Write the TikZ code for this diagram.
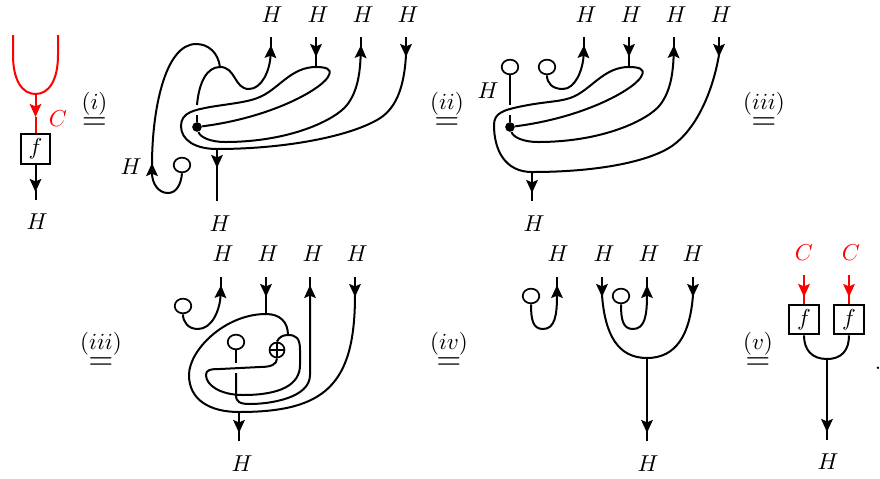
\documentclass[tikz,border=0pt]{standalone}
\usepackage{amsmath}
\usetikzlibrary{arrows.meta,shapes.geometric}

\newcommand{\eqlab}[1]{$\overset{\textstyle #1\rule[-1.5pt]{0pt}{0pt}}{\scalebox{1.4}{$=$}}$}

\begin{document}
\begin{tikzpicture}[x=.5pt,y=-.5pt]
\tikzstyle{every node}=[scale=1.15]
\tikzstyle{strand}=[line width=1pt]
\tikzstyle{arr}=[strand,-{Stealth[length=6.5pt,width=5.8pt,inset=1.2pt]}]
\tikzstyle{ring}=[ellipse,draw,line width=.85pt,inner sep=0pt,minimum width=7.2pt,minimum height=6.4pt]
\tikzstyle{blob}=[circle,fill=black,inner sep=0pt,minimum size=4.2pt]
\tikzstyle{mapbox}=[rectangle,draw,line width=1pt,inner sep=0pt,minimum size=12.8pt]
\tikzstyle{rel}=[inner sep=0pt]
\useasboundingbox (0,0) rectangle (880,478);

% first column
\node[text=red] (Cl) at (58,119) {$C$};
\node[mapbox] (f0) at (35.5,149) {$f$};
\node (H0) at (37,222) {$H$};
\coordinate (r0) at (35.5,117);
\coordinate (m0) at (35.5,94);
\draw[strand,red] (13,35) -- (13,55) .. controls (13,80) and (22,94) .. (m0) .. controls (49,94) and (58,80) .. (58,55) -- (58,35);
\draw[arr,red] (m0) -- (r0);
\draw[strand,red] (r0) -- (f0.north);
\draw[arr] (f0.south) -- (35.5,192);
\draw[strand] (35.5,190) -- (35.5,200);
\node[rel] (e1) at (94.5,110) {\eqlab{(i)}};

% after (i)
\node (Ha1) at (272,15) {$H$};
\node (Ha2) at (318,15) {$H$};
\node (Ha3) at (363,15) {$H$};
\node (Ha4) at (408,15) {$H$};
\node (Ha5) at (131,167) {$H$};
\node (Ha6) at (220,224) {$H$};
\node[ring] (ca) at (182,165) {};
\node[blob] (da) at (197,127) {};
\coordinate (ja) at (316,67);
\coordinate (ka) at (217,149);
\coordinate (la) at (220,67);
\draw[strand] (271,37) -- (271,50);
\draw[arr] (316,37) -- (316,57);
\draw[strand] (316,55) -- (ja);
\draw[strand] (361,37) -- (361,50);
\draw[arr] (406,37) -- (406,57);
\draw[arr] (197,105) .. controls (199,82) and (207,67) .. (la) .. controls (236,67) and (234,89) .. (249,89) .. controls (262,89) and (270,70) .. (271,45);
\draw[strand] (197,115) -- (da);
\draw[strand] (la) .. controls (218,52) and (208,44) .. (196,44) .. controls (165,44) and (152,110) .. (152,165);
\draw[arr] (ca.south) .. controls (181,185) and (176,193) .. (168,193) .. controls (158,193) and (152,183) .. (152,163);
\draw[strand] (406,55) .. controls (404,90) and (395,110) .. (377,120) .. controls (345,138) and (280,149) .. (ka) .. controls (195,149) and (181,140) .. (181,126) .. controls (181,112) and (195,110) .. (210,107) .. controls (235,103) and (250,102) .. (262,96) .. controls (280,87) and (292,67) .. (ja) .. controls (326,67) and (332,69) .. (329,75) .. controls (325,87) and (275,117) .. (da);
\draw[arr] (da) .. controls (200,137) and (210,142) .. (225,142) .. controls (290,142) and (335,120) .. (347,105) .. controls (357,92) and (360,75) .. (361,45);
\draw[arr] (ka) -- (217,168);
\draw[strand] (217,165) -- (217,201);
\node[rel] (e2) at (447,110) {\eqlab{(ii)}};

% after (ii)
\node (Hb1) at (586,15) {$H$};
\node (Hb2) at (631,15) {$H$};
\node (Hb3) at (676,15) {$H$};
\node (Hb4) at (721,15) {$H$};
\node (Hb5) at (488,91) {$H$};
\node (Hb6) at (534,224) {$H$};
\node[ring] (cb) at (510,67) {};
\node[ring] (cc) at (547,67) {};
\node[blob] (db) at (510,127) {};
\coordinate (jb) at (629,67);
\coordinate (kb) at (532,172);
\draw[strand] (584,37) -- (584,50);
\draw[arr] (629,37) -- (629,57);
\draw[strand] (629,55) -- (jb);
\draw[strand] (674,37) -- (674,50);
\draw[arr] (719,37) -- (719,57);
\draw[strand] (cb.south) -- (510,105);
\draw[strand] (510,115) -- (db);
\draw[arr] (cc.south) .. controls (547,83) and (552,89) .. (563,89) .. controls (575,89) and (583,70) .. (584,45);
\draw[strand] (719,55) .. controls (712,95) and (695,130) .. (672,146) .. controls (650,161) and (600,172) .. (kb) .. controls (505,172) and (494,150) .. (494,125) .. controls (494,113) and (503,110) .. (523,106) .. controls (548,101) and (563,102) .. (575,96) .. controls (593,87) and (605,67) .. (jb) .. controls (639,67) and (645,69) .. (642,75) .. controls (638,87) and (588,117) .. (db);
\draw[arr] (db) .. controls (513,137) and (523,142) .. (538,142) .. controls (603,142) and (648,120) .. (660,105) .. controls (670,92) and (673,75) .. (674,45);
\draw[arr] (kb) -- (532,193);
\draw[strand] (532,190) -- (532,201);
\node[rel] (e3) at (764,110) {\eqlab{(iii)}};

% after (iii), second row
\node[rel] (e4) at (101,350) {\eqlab{(iii)}};
\node (Hc1) at (223,254) {$H$};
\node (Hc2) at (268,254) {$H$};
\node (Hc3) at (313,254) {$H$};
\node (Hc4) at (357,254) {$H$};
\node (Hc5) at (242,464) {$H$};
\node[ring] (cd) at (183,306) {};
\node[ring] (ce) at (236,342) {};
\node[circle,draw,line width=.85pt,inner sep=0pt,minimum size=6.5pt] (op) at (277,350) {};
\coordinate (jc) at (266,314);
\coordinate (kc) at (239,412);
\draw[line width=.7pt] (op.north) -- (op.south) (op.west) -- (op.east);
\draw[strand] (221,277) -- (221,290);
\draw[arr] (266,277) -- (266,297);
\draw[strand] (266,295) -- (jc);
\draw[strand] (310,277) -- (310,290);
\draw[arr] (355,277) -- (355,297);
\draw[arr] (cd.south) .. controls (183,322) and (188,329) .. (198,329) .. controls (212,329) and (220,310) .. (221,285);
\draw[strand] (355,295) .. controls (355,385) and (325,412) .. (kc) .. controls (210,412) and (189,400) .. (189,375) .. controls (189,350) and (225,314) .. (jc) .. controls (280,314) and (288,322) .. (288,335);
\draw[strand] (op.north) .. controls (279,337) and (283,335) .. (288,335) .. controls (296,335) and (300,338) .. (300,350) -- (300,365) .. controls (300,385) and (280,395) .. (243,395) .. controls (220,395) and (206,385) .. (206,375) .. controls (206,370) and (210,369) .. (220,369) -- (260,367) .. controls (270,367) and (277,365) .. (op.south);
\draw[strand] (ce.south) -- (236,363);
\draw[arr] (236,373) -- (236,395) .. controls (236,402) and (240,404) .. (250,404) .. controls (270,404) and (310,398) .. (310,375) -- (310,285);
\draw[arr] (kc) -- (239,433);
\draw[strand] (239,430) -- (239,441);
\node[rel] (e5) at (449,350) {\eqlab{(iv)}};

% after (iv)
\node (Hd1) at (558,254) {$H$};
\node (Hd2) at (604,254) {$H$};
\node (Hd3) at (649,254) {$H$};
\node (Hd4) at (693,254) {$H$};
\node (Hd5) at (648,464) {$H$};
\node[ring] (cf) at (531,296) {};
\node[ring] (cg) at (621,296) {};
\coordinate (jd) at (647,358);
\draw[strand] (557,277) -- (557,290);
\draw[arr] (602,277) -- (602,297);
\draw[strand] (647,277) -- (647,290);
\draw[arr] (693,277) -- (693,297);
\draw[arr] (cf.south) .. controls (531,320) and (533,329) .. (543,329) .. controls (555,329) and (557,315) .. (557,285);
\draw[arr] (cg.south) .. controls (621,320) and (623,329) .. (633,329) .. controls (645,329) and (647,315) .. (647,285);
\draw[strand] (602,295) .. controls (605,335) and (618,358) .. (jd) .. controls (676,358) and (690,335) .. (693,295);
\draw[arr] (jd) -- (647,433);
\draw[strand] (647,430) -- (647,441);
\node[rel] (e6) at (758,350) {\eqlab{(v)}};

% last column
\node[text=red] (Cr1) at (804,253) {$C$};
\node[text=red] (Cr2) at (851,253) {$C$};
\node[mapbox] (f1) at (804,319.5) {$f$};
\node[mapbox] (f2) at (849,319.5) {$f$};
\node (He) at (828,462) {$H$};
\node (stop) at (878,368) {$.$};
\coordinate (je) at (827,359);
\draw[arr,red] (804,275) -- (804,297);
\draw[strand,red] (804,295) -- (f1.north);
\draw[arr,red] (849,275) -- (849,297);
\draw[strand,red] (849,295) -- (f2.north);
\draw[strand] (f1.south) .. controls (804,350) and (812,359) .. (je) .. controls (842,359) and (849,350) .. (f2.south);
\draw[arr] (je) -- (827,432);
\draw[strand] (827,430) -- (827,440);
\end{tikzpicture}
\end{document}
